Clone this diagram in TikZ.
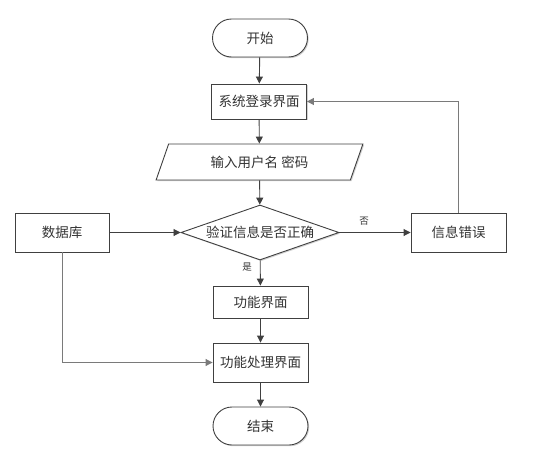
\documentclass[tikz,border=0pt]{standalone}
\usepackage{fontspec}
\newfontfamily\cjk{Noto Sans CJK SC}
\usetikzlibrary{shapes.geometric,shapes.misc,arrows.meta,shadows}
\definecolor{edgec}{HTML}{404040}
\definecolor{loopc}{HTML}{7A7A7A}
\definecolor{txtc}{HTML}{333333}
\tikzset{
  base/.style={draw=edgec, line width=0.9pt, fill=white, text=txtc,
    font=\cjk\fontsize{13.5}{16}\selectfont, inner sep=0pt,
    drop shadow={shadow xshift=1.2pt, shadow yshift=-1.2pt, fill=gray!35, opacity=1}},
  term/.style={base, minimum width=95pt, minimum height=38pt, rounded corners=19pt},
  procbox/.style={base, minimum width=95pt},
  iobox/.style={base, trapezium, trapezium left angle=62, trapezium right angle=118,
    trapezium stretches=true, minimum width=207pt, minimum height=36pt},
  decide/.style={base, diamond, aspect=2.8, minimum width=158pt, minimum height=55pt},
  arr/.style={draw=edgec, line width=0.9pt, -{Triangle[length=7pt,width=7pt]}},
  looparr/.style={draw=loopc, line width=1pt, -{Triangle[length=7pt,width=7pt]}, color=edgec, draw=loopc},
  lbl/.style={text=txtc, font=\cjk\fontsize{9.5}{11}\selectfont, inner sep=0pt}
}
\begin{document}
\begin{tikzpicture}[x=1pt,y=-1pt]
\useasboundingbox (0,0) rectangle (536,450);
\node[term] (start) at (260,38) {开始};
\node[procbox, minimum height=35pt] (login) at (259,101.5) {系统登录界面};
\node[iobox] (input) at (259.5,162) {输入用户名 密码};
\node[decide] (check) at (260,232.5) {验证信息是否正确};
\node[procbox, minimum width=94pt, minimum height=39pt] (db) at (62,232.5) {数据库};
\node[procbox, minimum height=39pt] (err) at (458.5,232.5) {信息错误};
\node[procbox, minimum height=32pt] (func) at (260.5,302) {功能界面};
\node[procbox, minimum height=39pt] (proc) at (260.5,362.5) {功能处理界面};
\node[term] (stop) at (260.5,426) {结束};

\draw[arr] (start) -- (login);
\draw[arr] (login) -- (input);
\draw[arr] (input) -- (check);
\draw[arr] (db) -- (check);
\draw[arr] (check) -- (err);
\draw[arr] (check) -- (func);
\draw[arr] (func) -- (proc);
\draw[arr] (proc) -- (stop);
\draw[looparr] (err.north) |- (login.east);
\draw[looparr] (db.south) |- (proc.west);
\node[lbl] (no) at (364,221) {否};
\node[lbl] (yes) at (247,267) {是};
\end{tikzpicture}
\end{document}
